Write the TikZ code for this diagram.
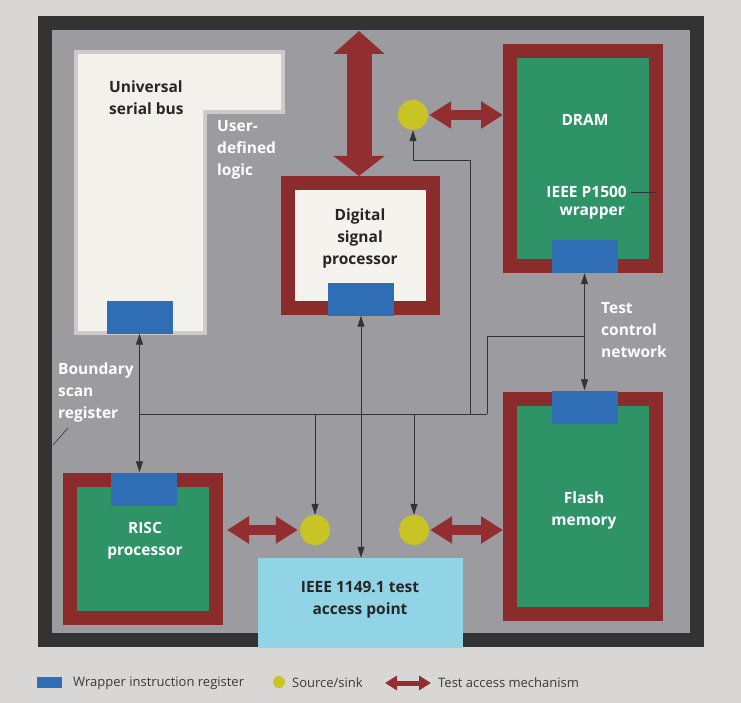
\documentclass[tikz,border=0pt]{standalone}
\usepackage{fontspec}
\setmainfont{Open Sans}
\usetikzlibrary{arrows.meta,calc}
\definecolor{bg}{HTML}{D8D7D5}
\definecolor{chipdark}{HTML}{333333}
\definecolor{chipgray}{HTML}{9C9BA0}
\definecolor{usbwhite}{HTML}{F3F1EC}
\definecolor{framered}{HTML}{8B2C2C}
\definecolor{tamred}{HTML}{922E2F}
\definecolor{memgreen}{HTML}{2E9467}
\definecolor{regblue}{HTML}{2F6DB5}
\definecolor{srcyellow}{HTML}{C8C425}
\definecolor{tapcyan}{HTML}{90D4E6}
\definecolor{dspwhite}{HTML}{F5F3EE}
\definecolor{textdark}{HTML}{262626}
\definecolor{conncol}{HTML}{333333}
\definecolor{legtext}{HTML}{3A3A3A}
\begin{document}
\begin{tikzpicture}[x=1pt,y=-1pt,
  blk/.style={draw=framered, line width=14pt, inner sep=0pt},
  reg/.style={fill=regblue, inner sep=0pt, minimum width=66pt, minimum height=33pt},
  src/.style={circle, fill=srcyellow, minimum size=30pt, inner sep=0pt},
  tam/.style={draw=tamred, line width=10pt, {Triangle[length=22pt,width=26pt]}-{Triangle[length=22pt,width=26pt]}},
  conn/.style={draw=conncol, line width=0.8pt},
  ah/.style={-{Triangle[length=11pt,width=7pt]}},
  both/.style={{Triangle[length=11pt,width=7pt]}-{Triangle[length=11pt,width=7pt]}},
  lbl/.style={font=\bfseries\fontsize{15.5}{22}\selectfont, align=center, inner sep=0pt},
  wlbl/.style={lbl, text=white},
  leg/.style={font=\fontsize{13}{15}\selectfont, text=legtext, inner sep=0pt, anchor=west},
]
\useasboundingbox (0,0) rectangle (741,703);
\fill[bg] (0,0) rectangle (741,703);
% chip
\fill[chipdark] (38,16) rectangle (704,647);
\fill[chipgray] (52,30) rectangle (690,633);
% USB / user-defined logic
\draw[chipgray!45!usbwhite, line width=4pt, fill=usbwhite] (76,52) -- (283,52) -- (283,112) -- (205,112) -- (205,333) -- (76,333) -- cycle;
\fill[usbwhite] (78,54) -- (281,54) -- (281,110) -- (203,110) -- (203,331) -- (78,331) -- cycle;
\node[reg] (usbreg) at (139.5,317) {};
\node[lbl, text=textdark, align=left, anchor=west] (usblbl) at (109,98) {Universal\\serial bus};
\node[wlbl, align=left, anchor=west] (udl) at (217,150) {User-\\defined\\logic};
% DSP
\node[blk, fill=dspwhite, minimum width=145pt, minimum height=125pt] (dsp) at (360.5,245.5) {};
\node[reg] (dspreg) at (361,299) {};
\node[lbl, text=textdark] (dsplbl) at (360,238) {Digital\\signal\\processor};
% DRAM
\node[blk, fill=memgreen, minimum width=146pt, minimum height=215pt] (dram) at (583,158.5) {};
\node[reg] (dramreg) at (584.5,256.5) {};
\node[wlbl] (dramlbl) at (585,120) {DRAM};
\node[wlbl, anchor=east] (p1500a) at (627,192) {IEEE P1500};
\node[wlbl, anchor=east] (p1500b) at (625,213) {wrapper};
\draw[conn, line width=0.6pt] ([xshift=4pt]p1500a.east) -- ($(p1500a.east -| dram.east)+(-7,0)$);
% Flash
\node[blk, fill=memgreen, minimum width=146pt, minimum height=215pt] (flash) at (583,506.5) {};
\node[reg] (flashreg) at (584.5,407) {};
\node[wlbl] (flashlbl) at (584,510) {Flash\\memory};
% RISC
\node[blk, fill=memgreen, minimum width=146pt, minimum height=138pt] (risc) at (143,549) {};
\node[reg] (riscreg) at (144,489) {};
\node[wlbl] (risclbl) at (145,541) {RISC\\processor};
% TAP
\node[fill=tapcyan, minimum width=205pt, minimum height=90pt, inner sep=0pt] (tap) at (360.5,603) {};
\node[lbl, text=textdark] (taplbl) at (360,600) {IEEE 1149.1 test\\access point};
% sources / sinks
\node[src] (c1) at (413,115) {};
\node[src] (c2) at (315,530) {};
\node[src] (c3) at (414,530) {};
% test access mechanisms
\coordinate (bigtop) at (359,31);
\draw[tam, line width=25pt, {Triangle[length=23pt,width=50pt]}-{Triangle[length=20pt,width=50pt]}] (bigtop) -- (bigtop |- dsp.north);
\draw[tam] ([xshift=1pt]c1.east) -- (c1.east -| dram.west);
\draw[tam] ([xshift=4pt]risc.east |- c2) -- ([xshift=-2pt]c2.west);
\draw[tam] ([xshift=1pt]c3.east) -- (c3.east -| flash.west);
% test control network
\coordinate (busy) at (0,414);
\coordinate (tcnA) at (487,414);
\coordinate (tcnB) at (487,336);
\coordinate (j1) at (470,414);
\coordinate (j1top) at (470,160);
\draw[conn, both] (usbreg.south) -- (usbreg.south |- riscreg.north);
\draw[conn] (usbreg |- busy) -- (tcnA);
\draw[conn, ah] (c2 |- busy) -- (c2.north);
\draw[conn, ah] (c3 |- busy) -- (c3.north);
\draw[conn, both] (dspreg.south) -- (dspreg.south |- tap.north);
\draw[conn, ah] (j1) -- (j1top) -- (c1 |- j1top) -- (c1.south);
\draw[conn] (tcnA) -- (tcnB) -- (dramreg |- tcnB);
\draw[conn, both] (dramreg.south) -- (dramreg.south |- flashreg.north);
\node[wlbl, align=left, anchor=west] (tcnlbl) at (601,330) {Test\\control\\network};
% boundary scan register
\node[wlbl, align=left, anchor=west] (bsr) at (58,392) {Boundary\\scan\\register};
\coordinate (bsrA) at (68,428);
\coordinate (bsrB) at (53,445);
\draw[conn, line width=0.6pt] (bsrA) -- (bsrB);
% legend
\node[fill=regblue, minimum width=25pt, minimum height=11pt, inner sep=0pt] (lgreg) at (49.5,682) {};
\node[leg] (lgregt) at (73,683) {Wrapper instruction register};
\node[circle, fill=srcyellow, minimum size=12pt, inner sep=0pt] (lgsrc) at (279,682) {};
\node[leg] (lgsrct) at (292,683) {Source/sink};
\coordinate (lgtamA) at (385,683);
\coordinate (lgtamB) at (431,683);
\draw[tam, line width=5pt, {Triangle[length=12pt,width=14pt]}-{Triangle[length=12pt,width=14pt]}] (lgtamA) -- (lgtamB);
\node[leg] (lgtamt) at (438,683) {Test access mechanism};
\end{tikzpicture}
\end{document}
